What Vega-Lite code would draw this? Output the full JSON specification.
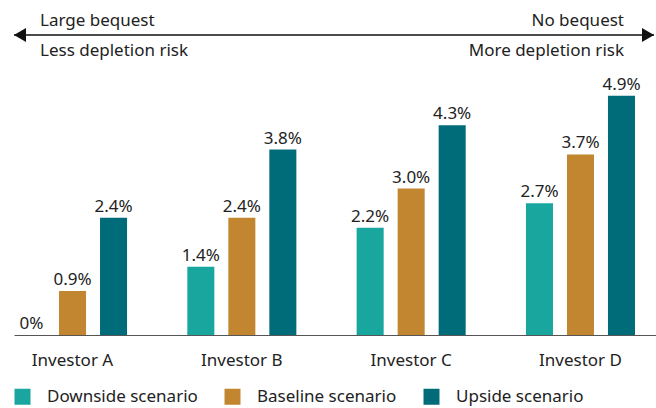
{
  "$schema": "https://vega.github.io/schema/vega-lite/v6.json",
  "padding": {"left": 13, "top": 0, "right": 0, "bottom": 3},
  "spacing": 0,
  "config": {
    "view": {"stroke": null},
    "font": "Noto Sans",
    "text": {"font": "Noto Sans", "color": "#222222"}
  },
  "vconcat": [
    {
      "width": 640,
      "height": 70,
      "layer": [
        {
          "data": {"values": [{"x0": 0, "x1": 1, "lvl": 0}]},
          "mark": {"type": "rule", "color": "#111111", "strokeWidth": 1.5},
          "encoding": {
            "x": {"field": "x0", "type": "quantitative", "scale": {"domain": [0, 1], "nice": false, "zero": false}, "axis": null},
            "x2": {"field": "x1"},
            "y": {"field": "lvl", "type": "quantitative", "scale": {"domain": [-1, 1]}, "axis": null}
          }
        },
        {
          "data": {"values": [{"x": 0, "lvl": 0, "dir": "left"}, {"x": 1, "lvl": 0, "dir": "right"}]},
          "mark": {"type": "point", "filled": true, "color": "#111111", "opacity": 1, "size": 144, "strokeWidth": 0},
          "encoding": {
            "x": {"field": "x", "type": "quantitative", "scale": {"domain": [0, 1], "nice": false, "zero": false}, "axis": null},
            "y": {"field": "lvl", "type": "quantitative", "scale": {"domain": [-1, 1]}, "axis": null},
            "shape": {"field": "dir", "type": "nominal", "legend": null, "scale": {"domain": ["left", "right"], "range": ["M0,0L2,-1.15L2,1.15Z", "M0,0L-2,-1.15L-2,1.15Z"]}}
          }
        },
        {
          "data": {"values": [{"x": 0, "lvl": 0, "t": "Large bequest"}]},
          "mark": {"type": "text", "align": "left", "baseline": "alphabetic", "dx": 26, "dy": -9, "fontSize": 17},
          "encoding": {
            "x": {"field": "x", "type": "quantitative", "scale": {"domain": [0, 1], "nice": false, "zero": false}, "axis": null},
            "y": {"field": "lvl", "type": "quantitative", "scale": {"domain": [-1, 1]}, "axis": null},
            "text": {"field": "t"}
          }
        },
        {
          "data": {"values": [{"x": 0, "lvl": 0, "t": "Less depletion risk"}]},
          "mark": {"type": "text", "align": "left", "baseline": "alphabetic", "dx": 26, "dy": 21, "fontSize": 17},
          "encoding": {
            "x": {"field": "x", "type": "quantitative", "scale": {"domain": [0, 1], "nice": false, "zero": false}, "axis": null},
            "y": {"field": "lvl", "type": "quantitative", "scale": {"domain": [-1, 1]}, "axis": null},
            "text": {"field": "t"}
          }
        },
        {
          "data": {"values": [{"x": 1, "lvl": 0, "t": "No bequest"}]},
          "mark": {"type": "text", "align": "right", "baseline": "alphabetic", "dx": -30, "dy": -9, "fontSize": 17},
          "encoding": {
            "x": {"field": "x", "type": "quantitative", "scale": {"domain": [0, 1], "nice": false, "zero": false}, "axis": null},
            "y": {"field": "lvl", "type": "quantitative", "scale": {"domain": [-1, 1]}, "axis": null},
            "text": {"field": "t"}
          }
        },
        {
          "data": {"values": [{"x": 1, "lvl": 0, "t": "More depletion risk"}]},
          "mark": {"type": "text", "align": "right", "baseline": "alphabetic", "dx": -30, "dy": 21, "fontSize": 17},
          "encoding": {
            "x": {"field": "x", "type": "quantitative", "scale": {"domain": [0, 1], "nice": false, "zero": false}, "axis": null},
            "y": {"field": "lvl", "type": "quantitative", "scale": {"domain": [-1, 1]}, "axis": null},
            "text": {"field": "t"}
          }
        }
      ]
    },
    {
      "width": 643,
      "height": 265,
      "data": {
        "values": [
          {"investor": "Investor A", "scenario": "Downside scenario", "value": 0, "label": "0%"},
          {"investor": "Investor A", "scenario": "Baseline scenario", "value": 0.9, "label": "0.9%"},
          {"investor": "Investor A", "scenario": "Upside scenario", "value": 2.4, "label": "2.4%"},
          {"investor": "Investor B", "scenario": "Downside scenario", "value": 1.4, "label": "1.4%"},
          {"investor": "Investor B", "scenario": "Baseline scenario", "value": 2.4, "label": "2.4%"},
          {"investor": "Investor B", "scenario": "Upside scenario", "value": 3.8, "label": "3.8%"},
          {"investor": "Investor C", "scenario": "Downside scenario", "value": 2.2, "label": "2.2%"},
          {"investor": "Investor C", "scenario": "Baseline scenario", "value": 3.0, "label": "3.0%"},
          {"investor": "Investor C", "scenario": "Upside scenario", "value": 4.3, "label": "4.3%"},
          {"investor": "Investor D", "scenario": "Downside scenario", "value": 2.7, "label": "2.7%"},
          {"investor": "Investor D", "scenario": "Baseline scenario", "value": 3.7, "label": "3.7%"},
          {"investor": "Investor D", "scenario": "Upside scenario", "value": 4.9, "label": "4.9%"}
        ]
      },
      "encoding": {
        "x": {
          "field": "investor",
          "type": "nominal",
          "sort": ["Investor A", "Investor B", "Investor C", "Investor D"],
          "scale": {"paddingInner": 0.356, "paddingOuter": 0.0768, "align": 0.154},
          "axis": {
            "title": null,
            "labelAngle": 0,
            "ticks": false,
            "tickSize": 0,
            "domainColor": "#555555",
            "domainWidth": 1,
            "labelFont": "Noto Sans",
            "labelFontSize": 17,
            "labelColor": "#222222",
            "labelBaseline": "alphabetic",
            "labelPadding": 30
          }
        },
        "xOffset": {
          "field": "scenario",
          "type": "nominal",
          "scale": {"domain": ["Downside scenario", "Baseline scenario", "Upside scenario"], "paddingInner": 0.341, "paddingOuter": 0}
        },
        "y": {
          "field": "value",
          "type": "quantitative",
          "scale": {"domain": [0, 5.43], "nice": false},
          "axis": null
        }
      },
      "layer": [
        {
          "mark": {"type": "bar"},
          "encoding": {
            "color": {
              "field": "scenario",
              "type": "nominal",
              "scale": {"domain": ["Downside scenario", "Baseline scenario", "Upside scenario"], "range": ["#19a69e", "#c1862f", "#006c7a"]},
              "legend": {
                "orient": "none",
                "legendX": 0,
                "legendY": 388,
                "direction": "horizontal",
                "title": null,
                "symbolType": "square",
                "symbolSize": 256,
                "symbolStrokeWidth": 0,
                "symbolOpacity": 1,
                "labelFont": "Noto Sans",
                "labelFontSize": 17,
                "labelColor": "#222222",
                "labelOffset": 16,
                "columnPadding": 26,
                "padding": 0
              }
            }
          }
        },
        {
          "mark": {"type": "text", "baseline": "alphabetic", "dy": -6, "fontSize": 17},
          "encoding": {
            "text": {"field": "label"}
          }
        }
      ]
    }
  ]
}
